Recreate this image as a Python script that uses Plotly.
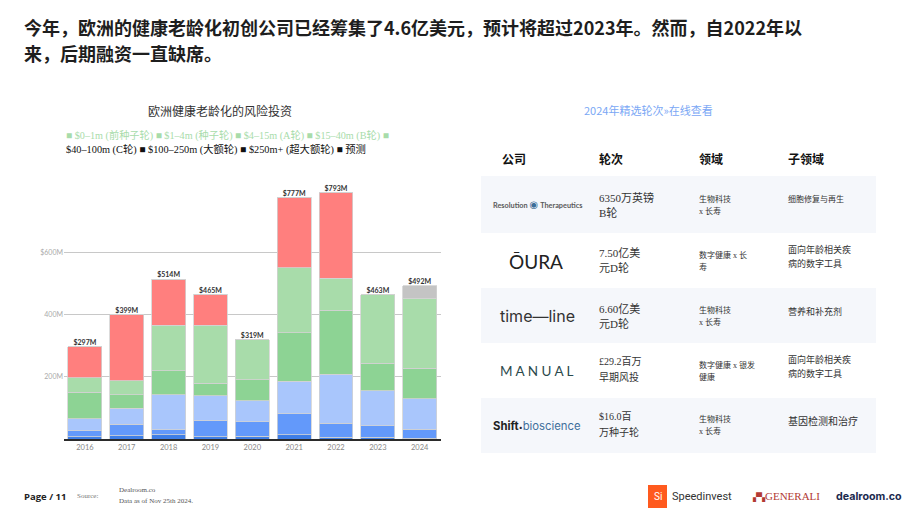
import plotly.graph_objects as go

W, H = 920, 518

# ---------------- data ----------------
years = ["2016", "2017", "2018", "2019", "2020", "2021", "2022", "2023", "2024"]
categories = ["$0–1m (前种子轮)", "$1–4m (种子轮)", "$4–15m (A轮)", "$15–40m (B轮)",
              "$40–100m (C轮)", "$100–250m (大额轮)", "$250m+ (超大额轮)", "预测"]
pre_seed = [8, 10, 14, 8, 9, 13, 6, 5, 3]
seed = [19, 37, 15, 51, 47, 68, 44, 38, 28]
series_a = [38, 52, 113, 80, 67, 104, 158, 112, 98]
series_b = [86, 44, 78, 41, 67, 156, 206, 89, 99]
series_c = [46, 45, 145, 185, 129, 210, 102, 219, 224]
large = [100, 211, 149, 100, 0, 226, 277, 0, 0]
mega = [0, 0, 0, 0, 0, 0, 0, 0, 0]
forecast = [0, 0, 0, 0, 0, 0, 0, 0, 40]
series = [pre_seed, seed, series_a, series_b, series_c, large, mega, forecast]
colors = ["#3f7ee6", "#6399fa", "#a9c6fc", "#8dd394", "#a8dcaa", "#ff7f7e", "#e0584f", "#c4c4c4"]

ytick_vals = [200, 400, 600]
ytick_text = ["200M", "400M", "$600M"]

table_title = "2024年精选轮次»在线查看"
table_headers = ["公司", "轮次", "领域", "子领域"]
companies = ["Resolution Therapeutics", "ŌURA", "time—line", "MANUAL", "Shift bioscience"]
rounds = [["6350万英镑", "B轮"], ["7.50亿美", "元D轮"], ["6.60亿美", "元D轮"],
          ["£29.2百万", "早期风投"], ["$16.0百", "万种子轮"]]
sectors = [["生物科技", "x 长寿"], ["数字健康 x 长", "寿"], ["生物科技", "x 长寿"],
           ["数字健康 x 银发", "健康"], ["生物科技", "x 长寿"]]
subsectors = [["细胞修复与再生"], ["面向年龄相关疾", "病的数字工具"], ["营养和补充剂"],
              ["面向年龄相关疾", "病的数字工具"], ["基因检测和治疗"]]

title_lines = ["今年，欧洲的健康老龄化初创公司已经筹集了4.6亿美元，预计将超过2023年。然而，自2022年以",
               "来，后期融资一直缺席。"]
chart_title = "欧洲健康老龄化的风险投资"

CJK = "Noto Sans CJK SC"
SERIF = "Liberation Serif, Noto Sans CJK SC"


def px(x):
    return x / W


def py(y):
    return 1 - y / H


fig = go.Figure()
for name, vals, col in zip(categories, series, colors):
    fig.add_trace(go.Bar(x=list(years), y=[float(v) for v in vals], name=name.replace("$", "US "),
                         marker=dict(color=col, line=dict(color="#d2d2d2", width=0.8)),
                         showlegend=False, hoverinfo="skip"))

totals = [sum(v) for v in zip(*series)]
fig.add_trace(go.Scatter(x=list(years), y=totals, mode="text",
                         text=["<b>$%dM</b>" % round(t) for t in totals],
                         textposition="top center", cliponaxis=False, showlegend=False, hoverinfo="skip",
                         textfont=dict(family="Lato, DejaVu Sans", size=7, color="#333")))

ann = []
# main title
for i, line in enumerate(title_lines):
    ann.append(dict(x=px(22), y=py(27 + 26 * i), xref="paper", yref="paper", text="<b>%s</b>" % line,
                    showarrow=False, xanchor="left", yanchor="middle",
                    font=dict(family=CJK, size=18, color="#1e1e1e")))

# chart title
ann.append(dict(x=px(220), y=py(110), xref="paper", yref="paper", text=chart_title, showarrow=False,
                xanchor="center", yanchor="middle", font=dict(family=CJK, size=12, color="#333")))

# legend text (two lines)
leg1 = " ".join("■ " + c for c in categories[:4]) + " ■"
leg2 = " ■ ".join(categories[4:])
ann.append(dict(x=px(64), y=py(136), xref="paper", yref="paper", text=leg1, showarrow=False,
                xanchor="left", yanchor="middle", font=dict(family=SERIF, size=10.2, color="#a8dcaa")))
ann.append(dict(x=px(64), y=py(149), xref="paper", yref="paper", text=leg2, showarrow=False,
                xanchor="left", yanchor="middle", font=dict(family=SERIF, size=10.3, color="#111")))

# table title
ann.append(dict(x=px(648), y=py(110), xref="paper", yref="paper", text=table_title, showarrow=False,
                xanchor="center", yanchor="middle", font=dict(family=CJK, size=11, color="#7aa7f5")))

col_x = [500, 597, 697, 786]
for cx, h in zip(col_x, table_headers):
    ann.append(dict(x=px(cx), y=py(158), xref="paper", yref="paper", text="<b>%s</b>" % h,
                    showarrow=False, xanchor="left", yanchor="middle",
                    font=dict(family=CJK, size=12, color="#111")))

row_top = [176, 233, 288, 343, 398]
row_h = 55
shapes = []
for i, top in enumerate(row_top):
    if i % 2 == 0:
        shapes.append(dict(type="rect", xref="paper", yref="paper", x0=px(481), x1=px(876),
                           y0=py(top), y1=py(top + row_h + (2 if i == 0 else 0)),
                           fillcolor="#f5f7fb", line_width=0, layer="below"))

# logos as text
logo_specs = [
    dict(text="<b>Resolution</b> <span style='color:#3d6e99;font-size:10px'>◉</span> <b>Therapeutics</b>",
         x=537, size=7.3, color="#5a5a5a", family="Lato, DejaVu Sans"),
    dict(text="ŌURA", x=536, size=19, color="#222", family="Lato, DejaVu Sans"),
    dict(text="time—line", x=537, size=16, color="#333", family="Inter, DejaVu Sans"),
    dict(text="M A N U A L", x=537, size=13.5, color="#2b4a4c", family="Lato, DejaVu Sans"),
    dict(text="<b>Shift</b><span style='font-size:7px'>•</span><span style='color:#3f6f9c'>bioscience</span>",
         x=537, size=11.3, color="#222", family="Inter, DejaVu Sans"),
]
for top, spec in zip(row_top, logo_specs):
    ann.append(dict(x=px(spec["x"]), y=py(top + 28), xref="paper", yref="paper", text=spec["text"],
                    showarrow=False, xanchor="center", yanchor="middle",
                    font=dict(family=spec["family"], size=spec["size"], color=spec["color"])))


def cell(lines, x, ymid, size, step, color="#333", family=SERIF):
    n = len(lines)
    for k, t in enumerate(lines):
        yy = ymid - step * (n - 1) / 2 + step * k
        ann.append(dict(x=px(x), y=py(yy), xref="paper", yref="paper", text=t, showarrow=False,
                        xanchor="left", yanchor="middle", font=dict(family=family, size=size, color=color)))


round_mid = [205, 260, 316, 369, 424]
sector_mid = [205, 261, 316, 371, 425]
sub_mid = [199, 256, 311, 366, 421]
for i in range(5):
    rs = 11 if i < 3 else 10
    cell(rounds[i], 597, round_mid[i], rs, 15, "#333")
    cell(sectors[i], 697, sector_mid[i], 8, 12.5, "#333")
    ss = 9 if len(subsectors[i]) > 1 else (10 if i == 4 else 9)
    if i == 0:
        ss = 8
    cell(subsectors[i], 786, sub_mid[i], ss, 14, "#333")

# footer
ann.append(dict(x=px(22), y=py(496), xref="paper", yref="paper", text="<b>Page / 11</b>", showarrow=False,
                xanchor="left", yanchor="middle", font=dict(family="Open Sans, DejaVu Sans", size=9.5, color="#222")))
ann.append(dict(x=px(75), y=py(496), xref="paper", yref="paper", text="Source:", showarrow=False,
                xanchor="left", yanchor="middle", font=dict(family=SERIF, size=7, color="#777")))
ann.append(dict(x=px(117), y=py(490), xref="paper", yref="paper", text="Dealroom.co", showarrow=False,
                xanchor="left", yanchor="middle", font=dict(family=SERIF, size=7, color="#555")))
ann.append(dict(x=px(117), y=py(501), xref="paper", yref="paper", text="Data as of Nov 25th 2024.",
                showarrow=False, xanchor="left", yanchor="middle", font=dict(family=SERIF, size=7, color="#555")))

shapes.append(dict(type="rect", xref="paper", yref="paper", x0=px(648), x1=px(667), y0=py(508), y1=py(485),
                   fillcolor="#ff5a1e", line_width=0))
ann.append(dict(x=px(657.5), y=py(496.5), xref="paper", yref="paper", text="Si", showarrow=False,
                xanchor="center", yanchor="middle",
                font=dict(family="Roboto, DejaVu Sans", size=10, color="white")))
ann.append(dict(x=px(670), y=py(496), xref="paper", yref="paper", text="Speedinvest", showarrow=False,
                xanchor="left", yanchor="middle", font=dict(family="Roboto, DejaVu Sans", size=11, color="#333")))
ann.append(dict(x=px(750), y=py(496), xref="paper", yref="paper",
                text="<span style='font-size:8px'>▞▚</span>GENERALI", showarrow=False,
                xanchor="left", yanchor="middle", font=dict(family="Liberation Serif", size=11, color="#b23a33")))
ann.append(dict(x=px(834), y=py(496), xref="paper", yref="paper", text="<b>dealroom.co</b>", showarrow=False,
                xanchor="left", yanchor="middle", font=dict(family="Inter, DejaVu Sans", size=10.7, color="#1b2a4e")))

fig.update_layout(
    width=W, height=H, barmode="stack", bargap=0.19,
    margin=dict(l=0, r=0, t=0, b=0, autoexpand=False),
    paper_bgcolor="white", plot_bgcolor="white",
    annotations=ann, shapes=shapes,
    xaxis=dict(type="category", categoryorder="array", categoryarray=years, range=[-0.5, 8.5],
               domain=[px(64), px(440.6)], showline=True, linecolor="#2b2b2b",
               linewidth=1.5, automargin=False,
               ticks="", tickfont=dict(family="Lato, DejaVu Sans", size=7.5, color="#888"),
               showgrid=False),
    yaxis=dict(domain=[py(439), py(191.7)], range=[0, 795], tickvals=ytick_vals, ticktext=ytick_text,
               automargin=False,
               showgrid=True, gridcolor="#c8c8c8", gridwidth=1.2, zeroline=False, showline=False,
               tickfont=dict(family="Lato, DejaVu Sans", size=7, color="#aaa"), ticks=""),
)

fig.write_html("out.html")
